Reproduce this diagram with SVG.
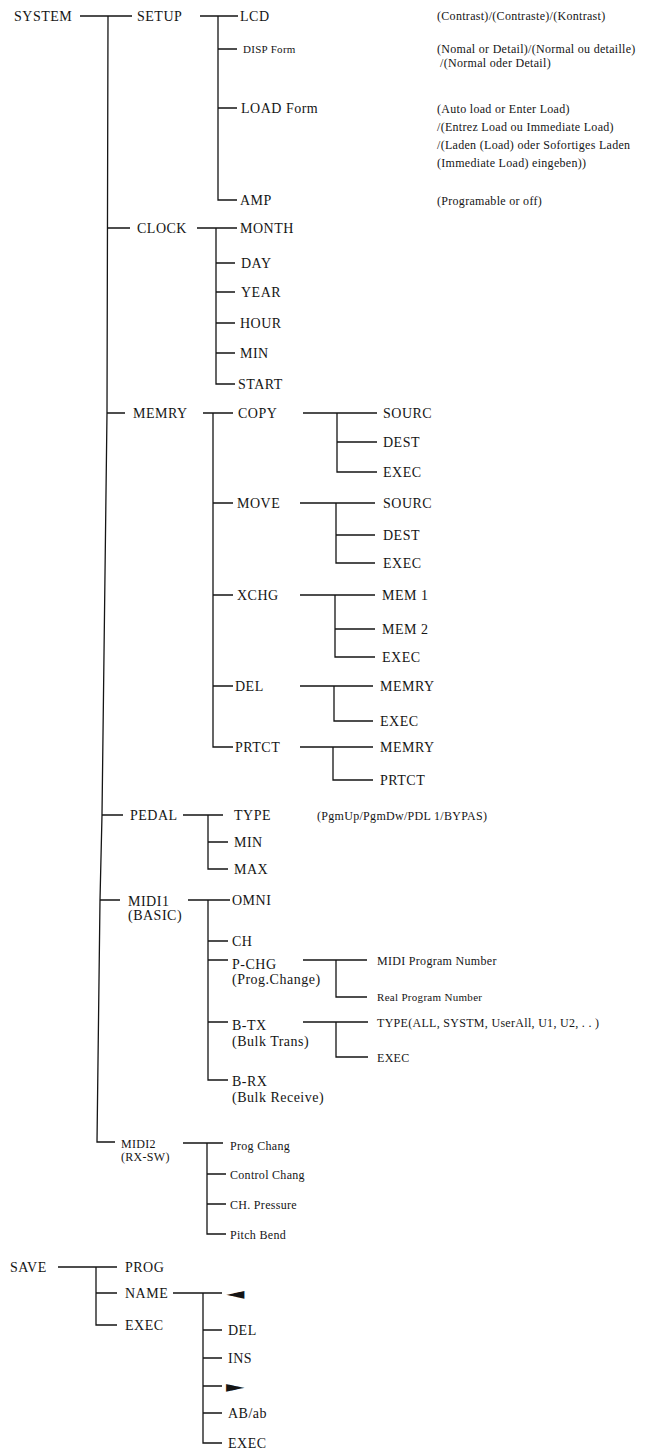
<svg xmlns="http://www.w3.org/2000/svg" width="657" height="1452" viewBox="0 0 657 1452">
<style>
text{font-family:"Liberation Serif","DejaVu Serif",serif;fill:#151515}
.n{font-size:14px;letter-spacing:0.5px}
.s{font-size:12px;letter-spacing:0.3px}
.xs{font-size:11px;letter-spacing:0.3px}
.sym{font-family:"DejaVu Sans",sans-serif;font-size:16px}
#connectors path{fill:none;stroke:#151515;stroke-width:1.3}
</style>
<rect width="657" height="1452" fill="#fff"/>
<g id="connectors">
<path d="M108,16 L107,413 L102,815 L100,900 L97,1142 L115,1142"/>
<path d="M80,16 H132 M107,228 H130 M107,413 H125 M102,815 H123 M100,900 H120"/>
<path d="M200,16 H238 M218,16 V200 H237 M218,49 H237 M218,108 H237"/>
<path d="M197,228 H237 M216,228 V384 H235 M216,263 H235 M216,292 H235 M216,323 H235 M216,353 H235"/>
<path d="M203,413 H233 M213,413 V747 H233 M213,503 H233 M213,595 H233 M213,686 H233"/>
<path d="M303,413 H377 M337,413 V472 H377 M337,442 H377"/>
<path d="M300,503 H375 M336,503 V563 H375 M336,535 H375"/>
<path d="M300,595 H375 M335,595 V657 H375 M335,629 H375"/>
<path d="M300,686 H373 M334,686 V721 H373"/>
<path d="M300,747 H373 M333,747 V780 H373"/>
<path d="M183,815 H223 M208,815 V869 H228 M208,842 H228"/>
<path d="M188,900 H230 M208,900 V1080 H228 M208,941 H228 M208,960 H228 M208,1022 H228"/>
<path d="M303,960 H367 M336,960 V997 H367"/>
<path d="M303,1022 H368 M336,1022 V1057 H368"/>
<path d="M183,1143 H223 M207,1143 V1234 H226 M207,1174 H226 M207,1204 H226"/>
<path d="M58,1267 H117 M96,1267 V1325 H117 M96,1293 H117"/>
<path d="M173,1293 H222 M203,1293 V1443 H222 M203,1330 H222 M203,1358 H222 M203,1386 H222 M203,1413 H222"/>
</g>
<g id="system"><text class="n" x="14" y="21">SYSTEM</text></g>
<g id="setup"><text class="n" x="137" y="21">SETUP</text></g>
<g id="lcd"><text class="n" x="240" y="21">LCD</text><text class="s" x="437" y="20">(Contrast)/(Contraste)/(Kontrast)</text></g>
<g id="disp"><text class="xs" x="243" y="53">DISP Form</text><text class="s" x="437" y="53">(Nomal or Detail)/(Normal ou detaille)</text><text class="s" x="440" y="67">/(Normal oder Detail)</text></g>
<g id="load"><text class="n" x="241" y="113">LOAD Form</text><text class="s" x="437" y="113">(Auto load or Enter Load)</text><text class="s" x="437" y="131">/(Entrez Load ou Immediate Load)</text><text class="s" x="437" y="149">/(Laden (Load) oder Sofortiges Laden</text><text class="s" x="437" y="167">(Immediate Load) eingeben))</text></g>
<g id="amp"><text class="n" x="240" y="205">AMP</text><text class="s" x="437" y="205">(Programable or off)</text></g>
<g id="clock"><text class="n" x="137" y="233">CLOCK</text></g>
<g id="month"><text class="n" x="240" y="233">MONTH</text></g>
<g id="day"><text class="n" x="241" y="268">DAY</text></g>
<g id="year"><text class="n" x="241" y="297">YEAR</text></g>
<g id="hour"><text class="n" x="240" y="328">HOUR</text></g>
<g id="min"><text class="n" x="240" y="358">MIN</text></g>
<g id="start"><text class="n" x="238" y="389">START</text></g>
<g id="memry"><text class="n" x="133" y="418">MEMRY</text></g>
<g id="copy"><text class="n" x="238" y="418">COPY</text></g>
<g id="copy-sourc"><text class="n" x="383" y="418">SOURC</text></g>
<g id="copy-dest"><text class="n" x="383" y="447">DEST</text></g>
<g id="copy-exec"><text class="n" x="383" y="477">EXEC</text></g>
<g id="move"><text class="n" x="237" y="508">MOVE</text></g>
<g id="move-sourc"><text class="n" x="383" y="508">SOURC</text></g>
<g id="move-dest"><text class="n" x="383" y="540">DEST</text></g>
<g id="move-exec"><text class="n" x="383" y="568">EXEC</text></g>
<g id="xchg"><text class="n" x="237" y="600">XCHG</text></g>
<g id="mem1"><text class="n" x="382" y="600">MEM 1</text></g>
<g id="mem2"><text class="n" x="382" y="634">MEM 2</text></g>
<g id="xchg-exec"><text class="n" x="382" y="662">EXEC</text></g>
<g id="del"><text class="n" x="235" y="691">DEL</text></g>
<g id="del-memry"><text class="n" x="380" y="691">MEMRY</text></g>
<g id="del-exec"><text class="n" x="380" y="726">EXEC</text></g>
<g id="prtct"><text class="n" x="235" y="752">PRTCT</text></g>
<g id="prtct-memry"><text class="n" x="380" y="752">MEMRY</text></g>
<g id="prtct-prtct"><text class="n" x="380" y="785">PRTCT</text></g>
<g id="pedal"><text class="n" x="130" y="820">PEDAL</text></g>
<g id="type"><text class="n" x="234" y="820">TYPE</text><text class="s" x="317" y="820">(PgmUp/PgmDw/PDL 1/BYPAS)</text></g>
<g id="pedal-min"><text class="n" x="234" y="847">MIN</text></g>
<g id="pedal-max"><text class="n" x="234" y="874">MAX</text></g>
<g id="midi1"><text class="n" x="128" y="906">MIDI1</text><text class="n" x="128" y="920">(BASIC)</text></g>
<g id="omni"><text class="n" x="232" y="905">OMNI</text></g>
<g id="ch"><text class="n" x="232" y="946">CH</text></g>
<g id="pchg"><text class="n" x="232" y="969">P-CHG</text><text class="n" x="232" y="984">(Prog.Change)</text></g>
<g id="midi-prog"><text class="s" x="377" y="965">MIDI Program Number</text></g>
<g id="real-prog"><text class="xs" x="377" y="1001">Real Program Number</text></g>
<g id="btx"><text class="n" x="232" y="1030">B-TX</text><text class="n" x="232" y="1046">(Bulk Trans)</text></g>
<g id="btx-type"><text class="s" x="377" y="1027">TYPE(ALL, SYSTM, UserAll, U1, U2, . . )</text></g>
<g id="btx-exec"><text class="s" x="377" y="1062">EXEC</text></g>
<g id="brx"><text class="n" x="232" y="1086">B-RX</text><text class="n" x="232" y="1102">(Bulk Receive)</text></g>
<g id="midi2"><text class="s" x="121" y="1148">MIDI2</text><text class="s" x="121" y="1161">(RX-SW)</text></g>
<g id="progchang"><text class="s" x="230" y="1150">Prog Chang</text></g>
<g id="controlchang"><text class="s" x="230" y="1179">Control Chang</text></g>
<g id="chpressure"><text class="s" x="230" y="1209">CH. Pressure</text></g>
<g id="pitchbend"><text class="s" x="230" y="1239">Pitch Bend</text></g>
<g id="save"><text class="n" x="10" y="1272">SAVE</text></g>
<g id="prog"><text class="n" x="125" y="1272">PROG</text></g>
<g id="name"><text class="n" x="125" y="1298">NAME</text></g>
<g id="save-exec"><text class="n" x="125" y="1330">EXEC</text></g>
<g id="left"><text class="sym" x="0" y="0" transform="translate(226,1299) scale(1.5,1)">◄</text></g>
<g id="name-del"><text class="n" x="228" y="1335">DEL</text></g>
<g id="ins"><text class="n" x="228" y="1363">INS</text></g>
<g id="right"><text class="sym" x="0" y="0" transform="translate(226,1392) scale(1.5,1)">►</text></g>
<g id="abab"><text class="n" x="228" y="1418">AB/ab</text></g>
<g id="name-exec"><text class="n" x="228" y="1448">EXEC</text></g>
</svg>
